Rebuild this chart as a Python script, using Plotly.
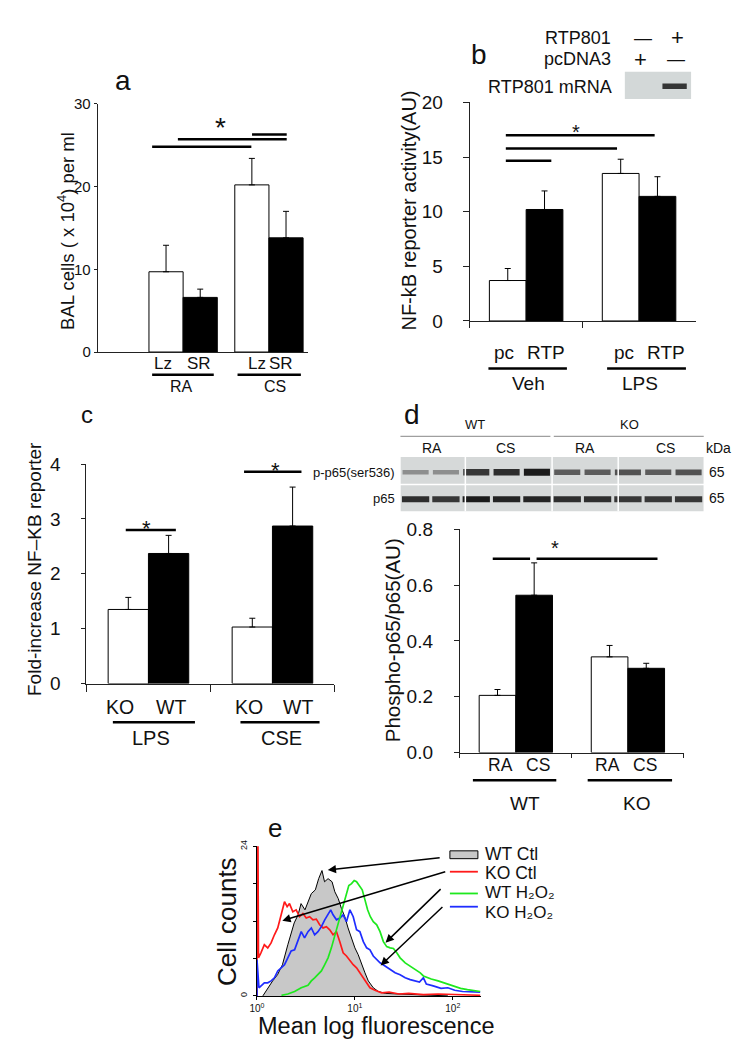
import numpy as np
import plotly.graph_objects as go

W, H = 744, 1050
FONT = "Liberation Sans, Arial, sans-serif"


def PX(x):
    return x / W


def PY(y):
    return 1 - y / H


# ------------------------------------------------------------------ data
# panel a : BAL cells
a_groups = ["RA", "CS"]
a_lz = [9.7, 20.2]
a_lz_err = [3.2, 3.2]
a_sr = [6.6, 13.8]
a_sr_err = [1.0, 3.2]

# panel b : NF-kB reporter activity
b_groups = ["Veh", "LPS"]
b_pc = [3.7, 13.5]
b_pc_err = [1.1, 1.3]
b_rtp = [10.2, 11.4]
b_rtp_err = [1.7, 1.8]

# panel c : fold increase NF-KB reporter
c_groups = ["LPS", "CSE"]
c_ko = [1.35, 1.03]
c_ko_err = [0.22, 0.16]
c_wt = [2.37, 2.87]
c_wt_err = [0.33, 0.71]

# panel d : phospho-p65 / p65
d_groups = ["WT", "KO"]
d_ra = [0.205, 0.343]
d_ra_err = [0.021, 0.041]
d_cs = [0.564, 0.302]
d_cs_err = [0.116, 0.018]

# western blot (panel d) band intensities, 10 lanes
blot_lanes = [1, 2, 3, 4, 5, 6, 7, 8, 9, 10]
pp65_intensity = [0.35, 0.35, 0.8, 0.85, 0.95, 0.6, 0.6, 0.65, 0.6, 0.65]
p65_intensity = [0.85, 0.8, 0.95, 0.9, 0.9, 0.85, 0.85, 0.8, 0.8, 0.8]

# RT-PCR gel (panel b)
gel_lanes = [1, 2]
gel_intensity = [0.0, 0.85]

# panel e : flow cytometry histograms (log10 fluorescence, cell counts)
wt_ctl_log = [0.06, 0.11, 0.16, 0.21, 0.26, 0.315, 0.35, 0.38, 0.42, 0.45, 0.49, 0.52,
              0.555, 0.596, 0.63, 0.664, 0.69, 0.726, 0.767, 0.795, 0.83, 0.863, 0.897,
              0.93, 0.966, 1.0, 1.034, 1.068, 1.103, 1.137, 1.188, 1.24, 1.31, 1.45,
              1.6, 1.8, 1.95]
wt_ctl_cnt = [0.0, 1.3, 2.4, 3.4, 5.0, 8.2, 10.3, 11.7, 13.0, 14.8, 13.8, 15.1,
              16.4, 17.0, 18.8, 20.1, 18.3, 18.8, 18.3, 16.7, 15.6, 14.0, 12.7,
              10.9, 9.3, 7.7, 6.6, 5.0, 3.7, 2.4, 1.3, 0.7, 0.4, 0.3,
              0.2, 0.1, 0.0]

ko_ctl_log = [0.0, 0.0, 0.01, 0.015, 0.04, 0.075, 0.11, 0.144, 0.178, 0.212, 0.247,
              0.281, 0.308, 0.332, 0.366, 0.40, 0.435, 0.469, 0.503, 0.538, 0.572,
              0.606, 0.64, 0.675, 0.709, 0.743, 0.777, 0.812, 0.846, 0.88, 0.914,
              0.949, 0.983, 1.017, 1.051, 1.086, 1.12, 1.154, 1.205, 1.274, 1.35,
              1.45, 1.55, 1.7, 1.85, 2.0, 2.15, 2.28]
ko_ctl_cnt = [0.0, 24.0, 24.0, 6.1, 6.9, 8.2, 7.7, 8.5, 9.8, 10.9, 13.0,
              15.1, 14.3, 14.8, 13.5, 13.8, 12.7, 13.2, 12.5, 12.7, 12.2,
              12.3, 11.4, 10.9, 11.1, 10.6, 9.8, 10.3, 8.7, 6.9, 6.4,
              5.6, 5.0, 4.5, 3.7, 2.9, 2.1, 1.3, 0.9, 0.5, 0.6,
              0.3, 0.4, 0.2, 0.3, 0.2, 0.1, 0.1]

ko_h2o2_log = [0.0, 0.0, 0.02, 0.04, 0.075, 0.11, 0.144, 0.178, 0.212, 0.247, 0.281,
               0.315, 0.349, 0.384, 0.418, 0.452, 0.486, 0.521, 0.555, 0.589, 0.623,
               0.658, 0.692, 0.726, 0.753, 0.777, 0.812, 0.846, 0.88, 0.914, 0.949,
               0.983, 1.017, 1.051, 1.086, 1.12, 1.154, 1.188, 1.223, 1.257, 1.308,
               1.36, 1.411, 1.462, 1.514, 1.565, 1.616, 1.66, 1.70, 1.73, 1.80, 1.88,
               1.95, 2.02, 2.1, 2.2, 2.28]
ko_h2o2_cnt = [0.0, 5.8, 1.3, 1.6, 2.1, 2.1, 2.4, 2.9, 4.0, 4.5, 5.0,
               6.1, 7.2, 7.4, 8.7, 10.3, 9.3, 10.3, 10.9, 9.8, 10.3,
               11.1, 12.2, 13.2, 13.8, 13.0, 12.2, 12.5, 13.0, 11.9, 13.8,
               12.7, 10.6, 10.3, 8.7, 7.7, 7.4, 6.4, 5.8, 5.3, 4.8,
               4.2, 3.7, 3.4, 2.9, 2.6, 2.4, 2.2, 2.9, 1.9, 1.6, 1.2,
               1.3, 0.9, 0.7, 0.7, 0.6]

wt_h2o2_log = [0.25, 0.315, 0.384, 0.452, 0.521, 0.555, 0.589, 0.623, 0.658, 0.692,
               0.726, 0.76, 0.788, 0.812, 0.836, 0.863, 0.887, 0.914, 0.938, 0.966,
               0.993, 1.017, 1.051, 1.075, 1.103, 1.13, 1.158, 1.188, 1.223, 1.257,
               1.291, 1.325, 1.36, 1.394, 1.428, 1.462, 1.514, 1.565, 1.616, 1.668,
               1.70, 1.78, 1.85, 1.92, 2.0, 2.08, 2.15, 2.22, 2.28]
wt_h2o2_cnt = [0.1, 0.3, 0.7, 1.3, 1.7, 2.4, 2.9, 3.4, 4.0, 5.0,
               6.1, 7.7, 9.3, 10.9, 12.2, 13.5, 15.1, 16.4, 17.7, 18.0,
               18.5, 18.3, 17.5, 17.0, 15.4, 13.8, 12.7, 11.9, 11.4, 10.3,
               8.7, 7.9, 7.7, 7.6, 6.9, 6.1, 5.3, 4.8, 4.2, 3.7,
               3.2, 2.7, 2.4, 2.0, 1.6, 1.2, 1.0, 0.8, 0.7]

# ------------------------------------------------------------------ figure
fig = go.Figure()
annotations = []
shapes = []


def txt(text, x, y, size, xref="paper", yref="paper", angle=0, xanchor="center",
        yanchor="middle", yshift=0):
    annotations.append(dict(text=text, x=x, y=y, xref=xref, yref=yref, showarrow=False,
                            textangle=angle, xanchor=xanchor, yanchor=yanchor,
                            yshift=yshift, font=dict(family=FONT, size=size, color="#111")))


def hline(x0, x1, y, xref, yref, width=2.5, color="black"):
    shapes.append(dict(type="line", x0=x0, x1=x1, y0=y, y1=y, xref=xref, yref=yref,
                       line=dict(color=color, width=width)))


def add_pair(xa, ya, groups, left, left_err, right, right_err, w):
    err_common = dict(type="data", symmetric=False, color="black", thickness=1, width=3)
    fig.add_trace(go.Bar(x=groups, y=left, width=w, offset=-w, xaxis=xa, yaxis=ya,
                         marker=dict(color="white", line=dict(color="black", width=1)),
                         error_y=dict(array=left_err, arrayminus=[0] * len(left), **err_common),
                         showlegend=False))
    fig.add_trace(go.Bar(x=groups, y=right, width=w, offset=0, xaxis=xa, yaxis=ya,
                         marker=dict(color="black", line=dict(color="black", width=1)),
                         error_y=dict(array=right_err, arrayminus=[0] * len(right), **err_common),
                         showlegend=False))


add_pair("x", "y", a_groups, a_lz, a_lz_err, a_sr, a_sr_err, 0.398)
add_pair("x2", "y2", b_groups, b_pc, b_pc_err, b_rtp, b_rtp_err, 0.3255)
add_pair("x3", "y3", c_groups, c_ko, c_ko_err, c_wt, c_wt_err, 0.325)
add_pair("x4", "y4", d_groups, d_ra, d_ra_err, d_cs, d_cs_err, 0.327)

BLOT_SCALE = [[0, "#d4d7d7"], [0.5, "#6e6e6e"], [1, "#121212"]]
# ---- western blot (d) on its own axes
fig.add_trace(go.Bar(x=blot_lanes, y=[0.10 + 0.17 * v for v in pp65_intensity],
                     base=[1.436 - (0.10 + 0.17 * v) / 2 for v in pp65_intensity],
                     width=0.86, xaxis="x6", yaxis="y6", showlegend=False,
                     marker=dict(color=pp65_intensity, cmin=0, cmax=1,
                                 colorscale=BLOT_SCALE, line=dict(width=0))))
fig.add_trace(go.Bar(x=blot_lanes, y=[0.22 for v in p65_intensity],
                     base=[0.445 - 0.11 for v in p65_intensity],
                     width=0.9, xaxis="x6", yaxis="y6", showlegend=False,
                     marker=dict(color=p65_intensity, cmin=0, cmax=1,
                                 colorscale=BLOT_SCALE, line=dict(width=0))))
# ---- gel (b)
fig.add_trace(go.Bar(x=gel_lanes, y=[0.2 for v in gel_intensity],
                     base=[0.36 for v in gel_intensity], width=0.73,
                     xaxis="x7", yaxis="y7", showlegend=False,
                     marker=dict(color=gel_intensity, cmin=0, cmax=1,
                                 colorscale=[[0, "#d3d8d8"], [0.5, "#707575"], [1, "#1a1a1a"]],
                                 line=dict(width=0))))

# ---- histograms (e)
fig.add_trace(go.Scatter(x=10 ** np.array(wt_ctl_log), y=wt_ctl_cnt, mode="lines",
                         fill="tozeroy", fillcolor="#c8c8c8",
                         line=dict(color="black", width=1), xaxis="x5", yaxis="y5",
                         showlegend=False))
fig.add_trace(go.Scatter(x=10 ** np.array(ko_ctl_log), y=ko_ctl_cnt, mode="lines",
                         line=dict(color="#ff1a1a", width=1.7), xaxis="x5", yaxis="y5",
                         showlegend=False))
fig.add_trace(go.Scatter(x=10 ** np.array(ko_h2o2_log), y=ko_h2o2_cnt, mode="lines",
                         line=dict(color="#1f2dff", width=1.7), xaxis="x5", yaxis="y5",
                         showlegend=False))
fig.add_trace(go.Scatter(x=10 ** np.array(wt_h2o2_log), y=wt_h2o2_cnt, mode="lines",
                         line=dict(color="#1ee81e", width=1.7), xaxis="x5", yaxis="y5",
                         showlegend=False))

# ------------------------------------------------------------------ axes
AX_COLOR = "#222"


def cat_x(groups, rng, domain, boundaries, ticklen=6):
    d = dict(type="category", categoryorder="array", categoryarray=groups, range=rng,
             domain=domain, showticklabels=False, showgrid=False, zeroline=False,
             showline=True, linecolor=AX_COLOR, linewidth=1, fixedrange=True)
    if boundaries:
        d.update(ticks="outside", tickson="boundaries", ticklen=ticklen, tickcolor=AX_COLOR)
    else:
        d.update(ticks="")
    return d


def num_y(rng, domain, tickvals, ticktext, size, standoff, ticklen, anchor):
    return dict(range=rng, domain=domain, tickvals=tickvals, ticktext=ticktext,
                ticks="outside", ticklen=ticklen, tickcolor=AX_COLOR,
                tickfont=dict(family=FONT, size=size, color="#111"),
                ticklabelstandoff=standoff, showgrid=False, zeroline=False,
                showline=True, linecolor=AX_COLOR, linewidth=1, anchor=anchor,
                fixedrange=True)


layout_axes = dict(
    xaxis=cat_x(a_groups, [-0.995, 1.452], [PX(90.7), PX(303)], False),
    yaxis=num_y([0, 30], [PY(349), PY(95.7)], [0, 10, 20, 30], ["0", "10", "20", "30"],
                15, 0, 3, "x"),
    xaxis2=dict(cat_x(b_groups, [-0.5, 1.5], [PX(466.7), PX(695)], True, 6), anchor="y2"),
    yaxis2=num_y([0, 20], [PY(317.3), PY(94.3)], [0, 5, 10, 15, 20],
                 ["0", "5", "10", "15", "20"], 19, 16, 6, "x2"),
    xaxis3=dict(cat_x(c_groups, [-0.5, 1.5], [PX(79.3), PX(330)], True, 7), anchor="y3"),
    yaxis3=num_y([0, 4], [PY(687.3), PY(463.3)], [0, 1, 2, 3, 4],
                 ["0", "1", "2", "3", "4"], 19, 17, 4, "x3"),
    xaxis4=dict(cat_x(d_groups, [-0.5, 1.5], [PX(456.7), PX(683.3)], True, 4), anchor="y4"),
    yaxis4=num_y([0, 0.8], [PY(757.7), PY(530)], [0, 0.2, 0.4, 0.6, 0.8],
                 ["0.0", "0.2", "0.4", "0.6", "0.8"], 19, 17, 5, "x4"),
    xaxis5=dict(type="log", range=[0, 2.29], domain=[PX(251.7), PX(478.3)], anchor="y5",
                tickvals=[1, 10, 100],
                ticktext=["10<sup>0</sup>", "10<sup>1</sup>", "10<sup>2</sup>"],
                ticks="outside", ticklen=3, tickcolor="black",
                tickfont=dict(family=FONT, size=10, color="#111"),
                showgrid=False, zeroline=False, showline=True, linecolor="black",
                linewidth=1, fixedrange=True),
    yaxis5=dict(range=[0, 24], domain=[PY(1006), PY(853.3)], anchor="x5",
                tickvals=[0, 24], ticktext=["0", "24"],
                minor=dict(tickvals=[6, 12, 18], ticks="outside", ticklen=3,
                           tickcolor="black", showgrid=False),
                tickangle=-90, ticks="outside", ticklen=3, tickcolor="black",
                tickfont=dict(family=FONT, size=9, color="#111"), ticklabelstandoff=2,
                showgrid=False, zeroline=False, showline=True, linecolor="black",
                linewidth=1, fixedrange=True),
    xaxis6=dict(range=[0.5, 10.5], domain=[PX(396.7), PX(703.3)], anchor="y6",
                visible=False, fixedrange=True),
    yaxis6=dict(range=[0, 2], domain=[PY(511.7), PY(456)], anchor="x6",
                visible=False, fixedrange=True),
    xaxis7=dict(range=[0.5, 2.5], domain=[PX(623.3), PX(690.7)], anchor="y7",
                visible=False, fixedrange=True),
    yaxis7=dict(range=[0, 1], domain=[PY(90.7), PY(62.7)], anchor="x7",
                visible=False, fixedrange=True),
)

# ------------------------------------------------------------------ blot / gel backgrounds
shapes.append(dict(type="rect", xref="x6", yref="y6", x0=0.5, x1=10.5, y0=1.02, y1=2,
                   fillcolor="#d6d9d9", line=dict(width=0), layer="below"))
shapes.append(dict(type="rect", xref="x6", yref="y6", x0=0.5, x1=10.5, y0=0, y1=0.96,
                   fillcolor="#d6d9d9", line=dict(width=0), layer="below"))
for sx in [2.64, 5.5, 7.68]:
    shapes.append(dict(type="line", xref="x6", yref="y6", x0=sx, x1=sx, y0=0, y1=2,
                       line=dict(color="white", width=1.5)))
shapes.append(dict(type="rect", xref="x7", yref="y7", x0=0.5, x1=2.5, y0=0, y1=1,
                   fillcolor="#d3d8d8", line=dict(width=0), layer="below"))

# ------------------------------------------------------------------ panel a texts
txt("a", PX(116.7), PY(72), 28)
txt("BAL cells ( x 10<sup>4</sup>) per ml", PX(58), PY(225), 18.5, angle=-90)
for lab, xv in zip(["Lz", "SR", "Lz", "SR"], [-0.233, 0.185, 0.858, 1.135]):
    txt(lab, xv, PY(361), 17, xref="x")
hline(-0.361, 0.357, PY(372.3), "x", "paper")
hline(0.634, 1.372, PY(372.3), "x", "paper")
txt("RA", -0.015, PY(384), 16, xref="x")
txt("CS", 1.072, PY(384), 16, xref="x")
hline(-0.361, 0.795, 24.8, "x", "y")
hline(-0.061, 1.207, 25.7, "x", "y")
hline(0.803, 1.207, 26.3, "x", "y")
txt("*", 0.438, 28.1, 28, xref="x", yref="y", yshift=-8)

# ------------------------------------------------------------------ panel b texts
txt("b", PX(476), PY(45), 28)
txt("RTP801", PX(611.7), PY(28.3), 18, xanchor="right")
txt("pcDNA3", PX(611.7), PY(50), 18, xanchor="right")
txt("RTP801 mRNA", PX(612.7), PY(78.3), 18, xanchor="right")
txt("—", PX(641.7), PY(28.3), 18)
txt("+", PX(676.7), PY(28.3), 22)
txt("+", PX(639), PY(50), 22)
txt("—", PX(675), PY(50), 18)
txt("NF-kB reporter activity(AU)", PX(405), PY(205), 20, angle=-90)
for lab, xv in zip(["pc", "RTP", "pc", "RTP"], [-0.193, 0.18, 0.863, 1.237]):
    txt(lab, xv, PY(349.3), 19, xref="x2")
hline(-0.334, 0.361, PY(365.7), "x2", "paper")
hline(0.717, 1.415, PY(365.7), "x2", "paper")
txt("Veh", 0.017, PY(381), 19, xref="x2")
txt("LPS", 1.012, PY(381), 19, xref="x2")
hline(-0.18, 0.223, 14.65, "x2", "y2")
hline(-0.18, 0.805, 15.78, "x2", "y2")
hline(-0.18, 1.138, 17.0, "x2", "y2")
txt("*", 0.442, 17.85, 20, xref="x2", yref="y2", yshift=-6)

# ------------------------------------------------------------------ panel c texts
txt("c", PX(80), PY(413), 24)
txt("Fold-increase NF–KB reporter", PX(26.7), PY(570), 19, angle=-90)
for lab, xv in zip(["KO", "WT", "KO", "WT"], [-0.229, 0.184, 0.808, 1.207]):
    txt(lab, xv, PY(711.7), 19.5, xref="x3")
hline(-0.287, 0.375, PY(726.7), "x3", "paper")
hline(0.742, 1.38, PY(726.7), "x3", "paper")
txt("LPS", 0.024, PY(742.5), 20, xref="x3")
txt("CSE", 1.075, PY(742.5), 20, xref="x3")
hline(-0.183, 0.221, 2.80, "x3", "y3")
hline(0.771, 1.234, 3.86, "x3", "y3")
txt("*", -0.016, 2.93, 22, xref="x3", yref="y3", yshift=-6)
txt("*", 1.021, 3.99, 22, xref="x3", yref="y3", yshift=-6)

# ------------------------------------------------------------------ panel d texts
txt("d", PX(408.3), PY(413), 28)
txt("WT", PX(471.7), PY(423.3), 13)
txt("KO", PX(628.3), PY(423.3), 13)
hline(PX(396.7), PX(548.3), PY(435), "paper", "paper", width=1, color="#888")
hline(PX(551.7), PX(703.3), PY(435), "paper", "paper", width=1, color="#888")
for lab, xv in zip(["RA", "CS", "RA", "CS"], [428.3, 503.3, 583.3, 665]):
    txt(lab, PX(xv), PY(446.7), 14)
txt("kDa", PX(718.3), PY(446.7), 14)
txt("p-p65(ser536)", PX(393.3), PY(471.7), 13, xanchor="right")
txt("p65", PX(393.3), PY(498.3), 13, xanchor="right")
txt("65", PX(716.7), PY(471.7), 14)
txt("65", PX(716.7), PY(498.3), 14)
txt("Phospho-p65/p65(AU)", PX(388.3), PY(643), 20.5, angle=-90)
for lab, xv in zip(["RA", "CS", "RA", "CS"], [-0.133, 0.197, 0.815, 1.156]):
    txt(lab, xv, PY(770), 17.5, xref="x4")
hline(-0.383, 0.361, PY(786), "x4", "paper")
hline(0.641, 1.394, PY(786), "x4", "paper")
txt("WT", 0.083, PY(810), 19, xref="x4")
txt("KO", 1.074, PY(810), 19, xref="x4")
hline(-0.206, 0.127, 0.695, "x4", "y4")
hline(0.185, 1.264, 0.695, "x4", "y4")
txt("*", 0.353, 0.755, 20, xref="x4", yref="y4", yshift=-6)

# ------------------------------------------------------------------ panel e texts
txt("e", PX(270), PY(835), 26)
txt("Cell counts", PX(222), PY(930), 26, angle=-90)
txt("Mean log fluorescence", PX(372), PY(1037), 23.5)
# legend
shapes.append(dict(type="rect", xref="paper", yref="paper", x0=PX(446.7), x1=PX(475),
                   y0=PY(866), y1=PY(858), fillcolor="#c8c8c8",
                   line=dict(color="black", width=1)))
for yy, col in [(879.3, "#ff1a1a"), (901.5, "#1ee81e"), (915, "#1f2dff")]:
    hline(PX(446.7), PX(475), PY(yy), "paper", "paper", width=1.8, color=col)
txt("WT Ctl", PX(480), PY(861), 17.5, xanchor="left")
txt("KO Ctl", PX(480), PY(880.5), 17.5, xanchor="left")
txt("WT H₂O₂", PX(480), PY(900), 17, xanchor="left")
txt("KO H₂O₂", PX(480), PY(921), 17, xanchor="left")
# arrows (head in data coords, tail offset in px)
for hx, hy, axp, ayp in [(0.723, 20.2, 113.4, -12.3), (0.259, 12.06, 164.4, -49.3),
                         (1.313, 8.54, 56.6, -55.0), (1.263, 4.87, 63.3, -60.0)]:
    annotations.append(dict(x=hx, y=hy, xref="x5", yref="y5", ax=axp, ay=ayp,
                            showarrow=True, arrowhead=2, arrowsize=1.1, arrowwidth=1.5,
                            arrowcolor="black", text=""))

fig.update_layout(
    width=W, height=H, autosize=False,
    margin=dict(l=0, r=0, t=0, b=0),
    paper_bgcolor="white", plot_bgcolor="white",
    barmode="overlay", showlegend=False,
    font=dict(family=FONT, color="#111"),
    annotations=annotations, shapes=shapes,
    **layout_axes,
)

fig.write_html("out.html", config={"displayModeBar": False, "staticPlot": True},
               post_script="document.body.style.margin='0px';")
